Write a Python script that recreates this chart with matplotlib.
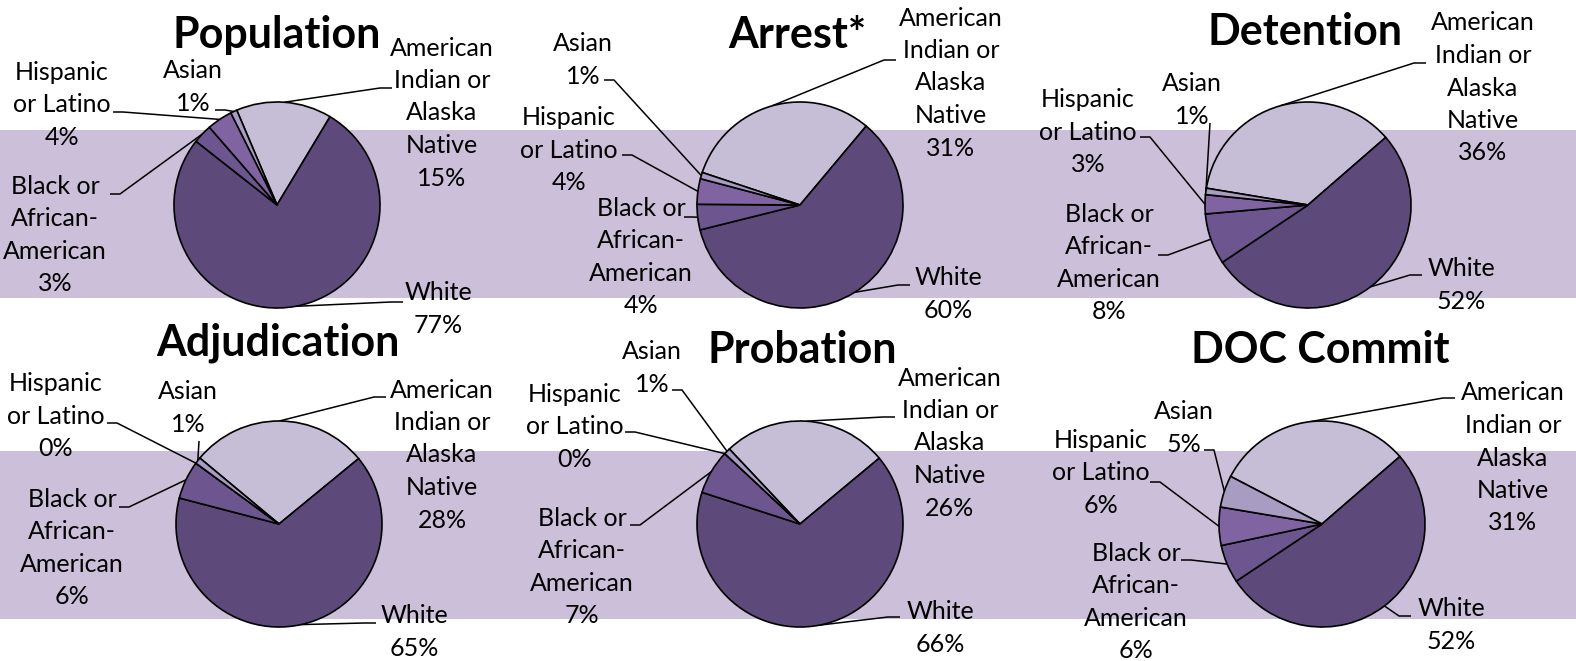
import numpy as np
import matplotlib
matplotlib.use("Agg")
import matplotlib.pyplot as plt

plt.rcParams['font.family'] = ['Lato', 'DejaVu Sans']

# ---- data ----
groups = ["American\nIndian or\nAlaska\nNative", "White",
          "Black or\nAfrican-\nAmerican", "Hispanic\nor Latino", "Asian"]
titles = ["Population", "Arrest*", "Detention",
          "Adjudication", "Probation", "DOC Commit"]
population = [15, 77, 3, 4, 1]
arrest = [31, 60, 4, 4, 1]
detention = [36, 52, 8, 3, 1]
adjudication = [28, 65, 6, 0, 1]
probation = [26, 66, 7, 0, 1]
doc_commit = [31, 52, 6, 6, 5]
series = [population, arrest, detention, adjudication, probation, doc_commit]

# ---- style / layout (pixels, y down) ----
W, H = 1576, 661
colors = ['#C6BED6', '#5E4A7A', '#6D5690', '#8064A2', '#A89CC2']
band_color = '#CBBFD9'
bands = [(130, 298), (451, 619)]
R = 103
centers = [(277, 205), (800, 205), (1308, 205),
           (279, 524), (800, 524), (1322, 524)]
title_pos = [(277, 35), (797, 35), (1305, 32),
             (278, 343), (802, 350), (1320, 350)]
start_angles = [113, 161.6, 170.6, 140.2, 133.3, 152.5]

# per pie, per group: text centre x, y, leader attach x, y, stub length
label_layout = [
    [(442, 113, 392, 88, -12), (438, 309, 403, 302, -12), (55, 235, 110, 194, 10),
     (62, 105, 113, 112, 10), (193, 87, 215, 110, 10)],
    [(951, 83, 896, 60, -12), (948, 294, 910, 285, -12), (641, 257, 684, 217, 8),
     (569, 150, 622, 155, 10), (583, 60, 604, 80, 10)],
    [(1483, 88, 1426, 63, -12), (1461, 285, 1422, 275, -12), (1109, 263, 1158, 255, 10),
     (1088, 132, 1140, 137, 10), (1192, 100, 1210, 123, 0)],
    [(442, 455, 386, 397, -12), (414, 632, 376, 623, -12), (72, 548, 119, 507, 10),
     (56, 416, 107, 423, 10), (188, 408, 199, 441, 0)],
    [(950, 443, 895, 417, -12), (940, 628, 900, 617, -12), (582, 567, 630, 525, 10),
     (575, 427, 625, 432, 10), (652, 368, 672, 390, 10)],
    [(1513, 458, 1455, 398, -12), (1451, 625, 1411, 616, -12), (1136, 602, 1181, 560, 10),
     (1101, 473, 1150, 482, 10), (1184, 428, 1204, 450, 10)],
]

fig = plt.figure(figsize=(W / 100, H / 100), dpi=100)
bg = fig.add_axes([0, 0, 1, 1])
bg.set_xlim(0, W)
bg.set_ylim(H, 0)
bg.axis('off')
for y0, y1 in bands:
    bg.axhspan(y0, y1, color=band_color, lw=0)

pad = 1.03
for i, vals in enumerate(series):
    cx, cy = centers[i]
    rr = R * pad
    ax = fig.add_axes([(cx - rr) / W, 1 - (cy + rr) / H, 2 * rr / W, 2 * rr / H])
    wedges, _ = ax.pie(vals, colors=colors, startangle=start_angles[i],
                       counterclock=False, radius=1,
                       wedgeprops=dict(edgecolor='black', linewidth=1.2))
    ax.set_xlim(-pad, pad)
    ax.set_ylim(-pad, pad)
    ax.apply_aspect()

    bg.text(*title_pos[i], titles[i], ha='center', va='center',
            fontsize=31, fontweight='bold', color='black')

    for j, w in enumerate(wedges):
        tx, ty, axx, ayy, stub = label_layout[i][j]
        bg.text(tx, ty, f"{groups[j]}\n{vals[j]}%", ha='center', va='center',
                fontsize=18, linespacing=1.5, color='black', multialignment='center')
        mid = np.deg2rad((w.theta1 + w.theta2) / 2)
        disp = ax.transData.transform((np.cos(mid), np.sin(mid)))
        px, py = bg.transData.inverted().transform(disp)
        bg.plot([px, axx + stub, axx], [py, ayy, ayy], color='black', lw=1.1,
                solid_capstyle='butt')

fig.savefig("out.png", dpi=100)
